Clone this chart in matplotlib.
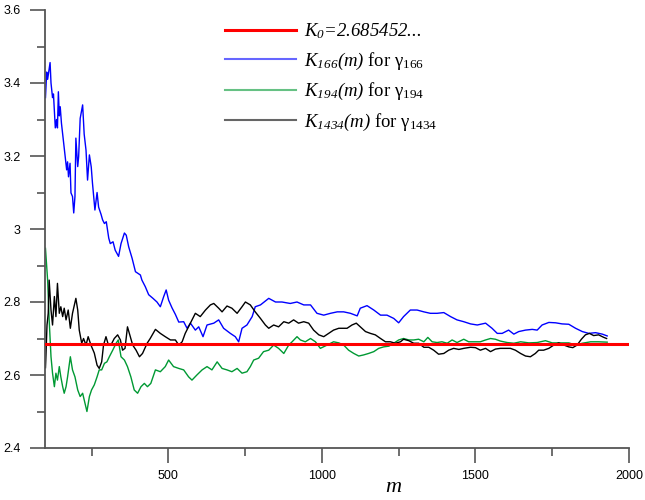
import matplotlib
matplotlib.use("Agg")
import matplotlib.pyplot as plt
from matplotlib.ticker import MultipleLocator, FuncFormatter

# 字体：刻度用 Arial 风格，公式/图例用 Times 风格
plt.rcParams['font.family'] = ['Liberation Sans', 'DejaVu Sans']
plt.rcParams['mathtext.fontset'] = 'custom'
plt.rcParams['mathtext.rm'] = 'Liberation Serif'
plt.rcParams['mathtext.it'] = 'Liberation Serif:italic'
plt.rcParams['mathtext.bf'] = 'Liberation Serif:bold'
# \mathsf 用作“全斜体”（数字和括号也倾斜）
plt.rcParams['mathtext.sf'] = 'Liberation Serif:italic'

K0 = 2.685452

# K_166(m)
m_166 = [100, 104, 107, 115, 118, 123, 126, 132, 136, 139, 142, 145, 148, 152, 158, 164, 169, 172, 175, 180,
         183, 188, 192, 196, 199, 205, 208, 213, 221, 226, 232, 237, 243, 249, 253, 261, 268, 273, 281, 286,
         292, 298, 306, 311, 320, 327, 338, 346, 357, 363, 371, 382, 393, 400, 409, 414, 425, 436, 450, 463,
         474, 485, 493, 501, 512, 523, 534, 550, 561, 572, 588, 599, 613, 626, 648, 664, 680, 702, 718, 729,
         740, 756, 773, 783, 800, 827, 849, 870, 897, 919, 941, 963, 984, 1006, 1028, 1050, 1071, 1093, 1115, 1125,
         1147, 1169, 1191, 1212, 1234, 1250, 1266, 1288, 1310, 1332, 1353, 1375, 1397, 1419, 1440, 1462, 1484, 1506, 1533, 1554,
         1571, 1587, 1608, 1625, 1641, 1663, 1685, 1701, 1717, 1739, 1761, 1782, 1804, 1826, 1848, 1869, 1891, 1913, 1929]
k_166 = [3.36, 3.43, 3.41, 3.456, 3.40, 3.36, 3.37, 3.277, 3.30, 3.277, 3.376, 3.31, 3.335, 3.29, 3.244, 3.198, 3.162, 3.184, 3.143, 3.18,
         3.099, 3.089, 3.044, 3.089, 3.249, 3.171, 3.198, 3.303, 3.34, 3.26, 3.216, 3.134, 3.203, 3.17, 3.126, 3.052, 3.10, 3.06, 3.04, 3.025,
         3.015, 3.02, 2.975, 2.96, 2.965, 2.942, 2.925, 2.96, 2.989, 2.983, 2.951, 2.92, 2.883, 2.879, 2.874, 2.86, 2.842, 2.82, 2.81, 2.80,
         2.787, 2.815, 2.833, 2.805, 2.784, 2.766, 2.745, 2.746, 2.728, 2.742, 2.723, 2.732, 2.705, 2.737, 2.742, 2.751, 2.728, 2.714, 2.705, 2.691,
         2.728, 2.737, 2.76, 2.787, 2.792, 2.81, 2.80, 2.80, 2.796, 2.80, 2.792, 2.792, 2.769, 2.764, 2.769, 2.773, 2.773, 2.769, 2.762, 2.783,
         2.79, 2.778, 2.764, 2.764, 2.755, 2.743, 2.76, 2.778, 2.778, 2.773, 2.769, 2.769, 2.771, 2.76, 2.751, 2.746, 2.74, 2.737, 2.742, 2.728,
         2.714, 2.714, 2.723, 2.712, 2.719, 2.723, 2.725, 2.723, 2.737, 2.744, 2.743, 2.74, 2.739, 2.728, 2.719, 2.714, 2.716, 2.712, 2.707]

# K_194(m)
m_194 = [100, 107, 112, 118, 123, 129, 134, 139, 145, 150, 156, 161, 167, 172, 181, 188, 196, 205, 213, 221,
         229, 235, 243, 250, 259, 268, 275, 283, 292, 300, 308, 319, 330, 337, 346, 357, 367, 378, 389, 400,
         411, 422, 432, 443, 458, 474, 490, 501, 517, 534, 550, 566, 577, 593, 610, 626, 642, 659, 675, 691,
         707, 724, 740, 756, 767, 778, 794, 810, 827, 843, 859, 876, 892, 903, 919, 930, 946, 963, 979, 995,
         1017, 1038, 1055, 1071, 1087, 1104, 1120, 1136, 1152, 1169, 1185, 1201, 1218, 1234, 1250, 1266, 1283, 1299, 1315, 1332,
         1345, 1359, 1375, 1391, 1408, 1424, 1440, 1462, 1478, 1494, 1516, 1533, 1549, 1565, 1581, 1603, 1625, 1647, 1674, 1701,
         1728, 1750, 1777, 1804, 1826, 1848, 1875, 1901, 1929]
k_194 = [2.947, 2.86, 2.751, 2.65, 2.605, 2.568, 2.605, 2.586, 2.623, 2.595, 2.568, 2.55, 2.568, 2.595, 2.65, 2.614, 2.595, 2.559, 2.541, 2.55,
         2.522, 2.50, 2.541, 2.559, 2.573, 2.595, 2.614, 2.614, 2.632, 2.636, 2.65, 2.668, 2.687, 2.696, 2.65, 2.641, 2.623, 2.595, 2.559, 2.55,
         2.568, 2.577, 2.568, 2.577, 2.614, 2.609, 2.623, 2.641, 2.623, 2.618, 2.614, 2.595, 2.586, 2.60, 2.614, 2.623, 2.614, 2.636, 2.618, 2.614,
         2.609, 2.618, 2.605, 2.609, 2.623, 2.641, 2.646, 2.664, 2.668, 2.682, 2.673, 2.659, 2.682, 2.691, 2.705, 2.696, 2.691, 2.70, 2.691, 2.673,
         2.682, 2.691, 2.688, 2.682, 2.668, 2.659, 2.652, 2.655, 2.659, 2.664, 2.673, 2.677, 2.679, 2.687, 2.696, 2.70, 2.696, 2.696, 2.698, 2.691,
         2.703, 2.691, 2.689, 2.691, 2.687, 2.696, 2.689, 2.698, 2.691, 2.691, 2.691, 2.696, 2.70, 2.698, 2.693, 2.689, 2.687, 2.691, 2.688, 2.689,
         2.694, 2.688, 2.688, 2.688, 2.682, 2.687, 2.691, 2.691, 2.69]

# K_1434(m)
m_1434 = [100, 101, 105, 109, 112, 118, 123, 129, 134, 139, 145, 150, 156, 161, 167, 174, 181, 188, 199, 205,
          210, 218, 224, 232, 239, 248, 259, 268, 275, 283, 289, 297, 305, 313, 324, 335, 344, 351, 359, 367,
          376, 384, 395, 406, 416, 431, 441, 458, 474, 490, 507, 523, 534, 545, 555, 572, 588, 604, 621, 637,
          648, 664, 675, 691, 707, 724, 740, 751, 767, 783, 800, 816, 827, 843, 859, 876, 892, 908, 924, 941,
          957, 973, 990, 1006, 1022, 1038, 1055, 1082, 1098, 1112, 1125, 1142, 1158, 1174, 1191, 1207, 1223, 1239, 1256, 1266,
          1283, 1299, 1315, 1332, 1348, 1364, 1380, 1397, 1413, 1429, 1446, 1462, 1484, 1500, 1516, 1533, 1549, 1565, 1581, 1598,
          1614, 1630, 1647, 1663, 1679, 1695, 1706, 1722, 1739, 1755, 1771, 1788, 1804, 1817, 1831, 1845, 1858, 1871, 1885, 1901,
          1918, 1927]
k_1434 = [2.62, 2.64, 2.737, 2.769, 2.86, 2.778, 2.737, 2.815, 2.76, 2.851, 2.769, 2.787, 2.76, 2.783, 2.751, 2.778, 2.728, 2.769, 2.81, 2.778,
          2.723, 2.687, 2.70, 2.682, 2.705, 2.682, 2.66, 2.627, 2.618, 2.636, 2.682, 2.705, 2.682, 2.682, 2.70, 2.71, 2.696, 2.668, 2.673, 2.732,
          2.705, 2.682, 2.668, 2.65, 2.659, 2.687, 2.70, 2.725, 2.714, 2.705, 2.696, 2.696, 2.682, 2.691, 2.714, 2.742, 2.769, 2.76, 2.778, 2.792,
          2.796, 2.783, 2.773, 2.789, 2.783, 2.769, 2.787, 2.80, 2.792, 2.773, 2.755, 2.737, 2.728, 2.737, 2.732, 2.746, 2.742, 2.751, 2.742, 2.746,
          2.742, 2.723, 2.71, 2.705, 2.714, 2.723, 2.728, 2.728, 2.737, 2.742, 2.732, 2.719, 2.714, 2.71, 2.70, 2.691, 2.691, 2.687, 2.691, 2.698,
          2.694, 2.687, 2.687, 2.676, 2.676, 2.668, 2.657, 2.659, 2.668, 2.673, 2.67, 2.673, 2.676, 2.675, 2.668, 2.673, 2.664, 2.671, 2.673, 2.673,
          2.673, 2.668, 2.659, 2.652, 2.65, 2.659, 2.668, 2.668, 2.673, 2.682, 2.688, 2.682, 2.677, 2.675, 2.682, 2.698, 2.71, 2.714, 2.708, 2.71,
          2.703, 2.70]

fig = plt.figure(figsize=(6.45, 5.0), dpi=100)
ax = fig.add_axes([0.0705, 0.104, 0.9047, 0.876])

l0 = ax.axhline(K0, color='#ff0000', lw=2.2, zorder=5,
                label=r'$\mathsf{K_{0}}$=2.685452...')
l1, = ax.plot(m_166, k_166, color='#0000ff', lw=1.0,
              label=r'$\mathsf{K_{166}(m)}$ for $\mathrm{\gamma}_{166}$')
l2, = ax.plot(m_194, k_194, color='#009933', lw=1.0,
              label=r'$\mathsf{K_{194}(m)}$ for $\mathrm{\gamma}_{194}$')
l3, = ax.plot(m_1434, k_1434, color='#000000', lw=1.0,
              label=r'$\mathsf{K_{1434}(m)}$ for $\mathrm{\gamma}_{1434}$')

ax.set_xlim(100, 2000)
ax.set_ylim(2.4, 3.6)
ax.xaxis.set_major_locator(MultipleLocator(500))
ax.xaxis.set_minor_locator(MultipleLocator(250))
ax.yaxis.set_major_locator(MultipleLocator(0.2))
ax.yaxis.set_minor_locator(MultipleLocator(0.1))
ax.yaxis.set_major_formatter(FuncFormatter(lambda v, p: f'{v:g}'))

for s in ['top', 'right']:
    ax.spines[s].set_visible(False)
for s in ['left', 'bottom']:
    ax.spines[s].set_color('#555555')
    ax.spines[s].set_linewidth(1.3)

ax.tick_params(which='major', length=11, width=1.2, color='#555555',
               labelsize=9, pad=5)
ax.tick_params(which='minor', length=5.5, width=1.2, color='#555555')
ax.tick_params(axis='y', which='major', pad=7)

ax.set_xlabel('$m$', fontsize=16)
ax.xaxis.set_label_coords(0.597, -0.065)

leg = ax.legend(handles=[l0, l1, l2, l3], loc='upper left',
                bbox_to_anchor=(0.3076, 0.9736), frameon=False,
                borderpad=0, borderaxespad=0, handlelength=3.8,
                handletextpad=0.4, labelspacing=0.5,
                prop={'family': 'Liberation Serif', 'size': 13.5})
# 第一条图例文字整体用斜体
leg.get_texts()[0].set_fontstyle('italic')
for h in leg.legend_handles:
    if h.get_color() != '#ff0000':
        h.set_linewidth(1.5)
        h.set_alpha(0.6)

fig.savefig('out.png', dpi=100)
